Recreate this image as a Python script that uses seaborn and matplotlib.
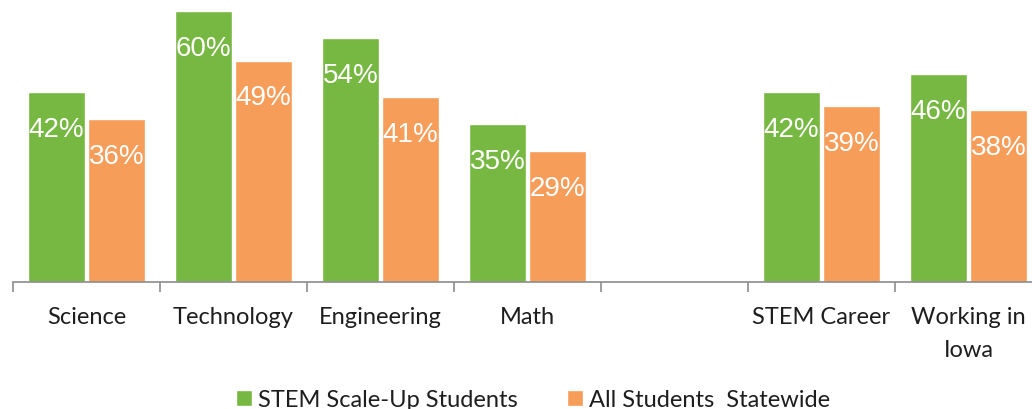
import matplotlib
matplotlib.use("Agg")
import matplotlib.pyplot as plt
import seaborn as sns
import pandas as pd
import numpy as np
from matplotlib.ticker import FixedLocator

categories = ["Science", "Technology", "Engineering", "Math", " ", "STEM Career", "Working in\nIowa"]
data_categories = ["Science", "Technology", "Engineering", "Math", "STEM Career", "Working in\nIowa"]
scaleup = [42, 60, 54, 35, 42, 46]
statewide = [36, 49, 41, 29, 39, 38]
series = ["STEM Scale-Up Students", "All Students  Statewide"]
colors = ["#77b843", "#f79d5a"]

df = pd.DataFrame({
    "category": data_categories * 2,
    "value": scaleup + statewide,
    "series": [series[0]] * len(scaleup) + [series[1]] * len(statewide),
})

sns.set_theme(style="white")
plt.rcParams["font.family"] = ["Liberation Sans", "DejaVu Sans"]

W, H = 1032, 410
fig = plt.figure(figsize=(W / 100, H / 100), dpi=100)
ax = fig.add_axes([13 / W, (H - 283) / H, 1029 / W, 271 / H])

sns.barplot(data=df, x="category", y="value", hue="series", order=categories,
            hue_order=series, palette=colors, width=0.82, gap=0.06,
            saturation=1, ax=ax, legend=True)

ax.set_ylim(0, 60)
ax.set_xlim(-0.5, len(categories) - 0.5)
ax.set_xlabel("")
ax.set_ylabel("")
ax.set_yticks([])
for s in ["top", "right", "left"]:
    ax.spines[s].set_visible(False)
ax.spines["bottom"].set_color("#8c8c8c")
ax.spines["bottom"].set_linewidth(1.2)

ax.xaxis.set_minor_locator(FixedLocator(np.arange(-0.5, len(categories), 1.0)))
ax.tick_params(axis="x", which="minor", length=7, width=1.2, color="#8c8c8c", direction="out", bottom=True)
ax.tick_params(axis="x", which="major", length=0, pad=17, labelsize=17, labelcolor="#1e1e1e")
for lbl in ax.get_xticklabels():
    lbl.set_fontfamily(["Lato", "DejaVu Sans"])
    lbl.set_linespacing(1.75)

for cont in ax.containers:
    for p in cont.patches:
        h = p.get_height()
        if np.isnan(h):
            continue
        ax.annotate(f"{h:.0f}%", (p.get_x() + p.get_width() / 2, h),
                    xytext=(0, -26.5), textcoords="offset points",
                    ha="center", va="center", color="white", fontsize=20,
                    fontfamily=["Liberation Sans", "DejaVu Sans"])

leg = ax.get_legend()
handles = leg.legend_handles
labels = [t.get_text() for t in leg.get_texts()]
leg.remove()
fig.legend(handles, labels, loc="lower center", bbox_to_anchor=(533 / W, -0.055),
           ncol=2, frameon=False, handlelength=0.7, handleheight=0.7,
           handletextpad=0.25, columnspacing=2.05, prop={"family": "Lato", "size": 17})
for t in fig.legends[0].get_texts():
    t.set_color("#1e1e1e")

fig.savefig("out.png", dpi=100)
